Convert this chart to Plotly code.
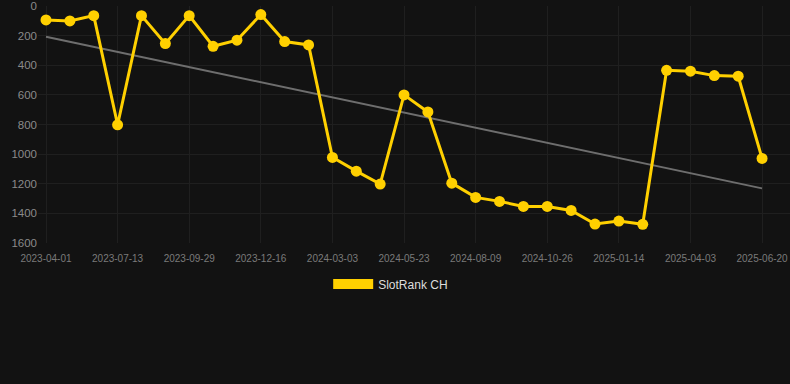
import numpy as np
import plotly.graph_objects as go

dates = [
    "2023-04-01", "2023-05-05", "2023-06-08", "2023-07-13", "2023-08-08", "2023-09-03",
    "2023-09-29", "2023-10-25", "2023-11-20", "2023-12-16", "2024-01-11", "2024-02-06",
    "2024-03-03", "2024-03-30", "2024-04-26", "2024-05-23", "2024-06-18", "2024-07-14",
    "2024-08-09", "2024-09-04", "2024-09-30", "2024-10-26", "2024-11-22", "2024-12-18",
    "2025-01-14", "2025-02-09", "2025-03-08", "2025-04-03", "2025-04-29", "2025-05-25",
    "2025-06-20",
]
ranks = [
    94, 101, 65, 802, 65, 254, 65, 272, 231, 58, 240, 263,
    1022, 1115, 1202, 600, 715, 1196, 1292, 1319, 1353, 1353, 1380, 1472,
    1452, 1474, 434, 440, 470, 474, 1029,
]
tick_labels = dates[::3]
series_name = "SlotRank CH"

idx = np.arange(len(ranks))
slope, intercept = np.polyfit(idx, ranks, 1)
trend = slope * idx + intercept

GOLD = "#FFD000"
BG = "#121212"

fig = go.Figure()
fig.add_trace(go.Scatter(
    x=dates, y=trend, mode="lines",
    line=dict(color="#6e6e6e", width=2),
    showlegend=False, hoverinfo="skip",
))
fig.add_trace(go.Scatter(
    x=dates, y=ranks, mode="lines+markers",
    line=dict(color=GOLD, width=3),
    marker=dict(color=GOLD, size=11),
    name=series_name, showlegend=False,
))
# legend swatch
fig.add_trace(go.Scatter(
    x=[None], y=[None], mode="lines",
    line=dict(color=GOLD, width=12),
    name=series_name, showlegend=True,
))

fig.update_layout(
    width=790, height=384,
    margin=dict(l=38, r=0, t=6, b=141),
    paper_bgcolor=BG, plot_bgcolor=BG,
    font=dict(family="Liberation Sans, Arial, sans-serif", color="#8a8a8a", size=11),
    showlegend=True,
    legend=dict(
        orientation="h", x=0.469, xanchor="center", y=-0.173, yanchor="middle",
        font=dict(size=12, color="#dddddd"), bgcolor="rgba(0,0,0,0)",
        itemwidth=40,
    ),
    xaxis=dict(
        type="category", categoryorder="array", categoryarray=dates,
        range=[-0.335, 31.17],
        tickmode="array", tickvals=tick_labels, ticktext=tick_labels,
        showgrid=True, gridcolor="#1f1f1f", gridwidth=1,
        zeroline=False, showline=False, ticks="",
        tickfont=dict(size=10, color="#7a7a7a"),
        tickangle=0, ticklabeloverflow="allow", ticklabelstandoff=8,
    ),
    yaxis=dict(
        range=[1600, 0],
        tickvals=[0, 200, 400, 600, 800, 1000, 1200, 1400, 1600],
        showgrid=True, gridcolor="#1f1f1f", gridwidth=1,
        zeroline=False, showline=False, ticks="",
        tickfont=dict(size=11.5, color="#8a8a8a"),
        ticklabeloverflow="allow",
    ),
)

fig.write_html(
    "out.html",
    config={"displayModeBar": False},
    post_script="document.body.style.margin='0';document.body.style.background='#121212';document.body.style.overflow='hidden';",
)
